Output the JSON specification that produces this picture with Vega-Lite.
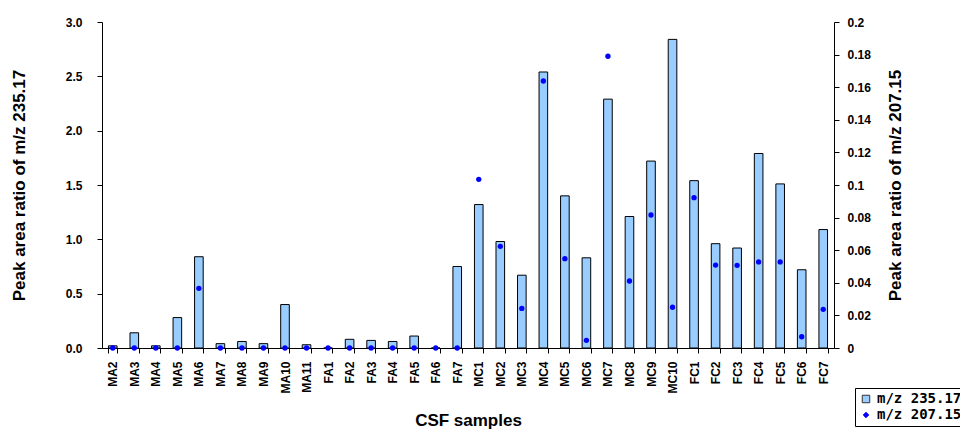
{
  "$schema": "https://vega.github.io/schema/vega-lite/v6.json",
  "autosize": {"type": "none"},
  "padding": {"left": 102, "top": 22, "right": 126, "bottom": 82},
  "width": 732,
  "height": 326,
  "background": "white",
  "config": {
    "view": {"stroke": null},
    "axis": {
      "grid": false,
      "domainColor": "black",
      "tickColor": "black",
      "tickSize": 5,
      "labelColor": "black",
      "labelFont": "Liberation Sans",
      "labelFontWeight": "bold",
      "labelFontSize": 12,
      "titleColor": "black",
      "titleFont": "Liberation Sans",
      "titleFontWeight": "bold",
      "titleFontSize": 17
    },
    "legend": {
      "title": null,
      "orient": "none",
      "legendX": 753,
      "legendY": 366,
      "fillColor": "white",
      "strokeColor": "black",
      "padding": 4,
      "rowPadding": 2,
      "labelFont": "DejaVu Sans Mono",
      "labelFontWeight": "bold",
      "labelFontSize": 14,
      "labelColor": "black",
      "labelOffset": 4
    }
  },
  "data": {
    "values": [
      {"sample": "MA2", "m235": 0.02, "m207": 0},
      {"sample": "MA3", "m235": 0.14, "m207": 0},
      {"sample": "MA4", "m235": 0.02, "m207": 0},
      {"sample": "MA5", "m235": 0.28, "m207": 0},
      {"sample": "MA6", "m235": 0.84, "m207": 0.0366},
      {"sample": "MA7", "m235": 0.04, "m207": 0},
      {"sample": "MA8", "m235": 0.06, "m207": 0},
      {"sample": "MA9", "m235": 0.04, "m207": 0},
      {"sample": "MA10", "m235": 0.40, "m207": 0},
      {"sample": "MA11", "m235": 0.03, "m207": 0},
      {"sample": "FA1", "m235": 0, "m207": 0},
      {"sample": "FA2", "m235": 0.08, "m207": 0},
      {"sample": "FA3", "m235": 0.07, "m207": 0},
      {"sample": "FA4", "m235": 0.06, "m207": 0},
      {"sample": "FA5", "m235": 0.11, "m207": 0},
      {"sample": "FA6", "m235": 0, "m207": 0},
      {"sample": "FA7", "m235": 0.75, "m207": 0},
      {"sample": "MC1", "m235": 1.32, "m207": 0.1035},
      {"sample": "MC2", "m235": 0.98, "m207": 0.0624},
      {"sample": "MC3", "m235": 0.67, "m207": 0.0243},
      {"sample": "MC4", "m235": 2.54, "m207": 0.1638},
      {"sample": "MC5", "m235": 1.40, "m207": 0.0548},
      {"sample": "MC6", "m235": 0.83, "m207": 0.0047},
      {"sample": "MC7", "m235": 2.29, "m207": 0.179},
      {"sample": "MC8", "m235": 1.21, "m207": 0.0411},
      {"sample": "MC9", "m235": 1.72, "m207": 0.0816},
      {"sample": "MC10", "m235": 2.84, "m207": 0.025},
      {"sample": "FC1", "m235": 1.54, "m207": 0.0922},
      {"sample": "FC2", "m235": 0.96, "m207": 0.0509},
      {"sample": "FC3", "m235": 0.92, "m207": 0.0507},
      {"sample": "FC4", "m235": 1.79, "m207": 0.0528},
      {"sample": "FC5", "m235": 1.51, "m207": 0.0528},
      {"sample": "FC6", "m235": 0.72, "m207": 0.0069},
      {"sample": "FC7", "m235": 1.09, "m207": 0.0237}
    ]
  },
  "encoding": {
    "x": {
      "field": "sample",
      "type": "nominal",
      "sort": null,
      "scale": {"paddingInner": 0.6, "paddingOuter": 0.3},
      "axis": {
        "title": "CSF samples",
        "labelAngle": -90,
        "labelPadding": 8,
        "tickBand": "extent",
        "titlePadding": 19
      }
    }
  },
  "layer": [
    {
      "mark": {"type": "bar", "stroke": "black", "strokeWidth": 1},
      "encoding": {
        "y": {
          "field": "m235",
          "type": "quantitative",
          "scale": {"domain": [0, 3], "nice": false},
          "axis": {
            "title": "Peak area ratio of m/z 235.17",
            "values": [0, 0.5, 1, 1.5, 2, 2.5, 3],
            "format": ".1f",
            "labelPadding": 15,
            "titlePadding": 37
          }
        },
        "color": {
          "datum": "m/z 235.17",
          "scale": {
            "domain": ["m/z 235.17", "m/z 207.15"],
            "range": ["#99CCFF", "#0000FF"]
          },
          "legend": {
            "symbolType": {"expr": "datum.value === 'm/z 235.17' ? 'square' : 'diamond'"},
            "symbolSize": {"expr": "datum.value === 'm/z 235.17' ? 56 : 30"},
            "symbolStrokeColor": {"expr": "datum.value === 'm/z 235.17' ? '#333333' : '#0000FF'"},
            "symbolStrokeWidth": 1
          }
        }
      }
    },
    {
      "mark": {"type": "point", "filled": true, "shape": "circle", "size": 28, "opacity": 1},
      "encoding": {
        "y": {
          "field": "m207",
          "type": "quantitative",
          "scale": {"domain": [0, 0.2], "nice": false},
          "axis": {
            "orient": "right",
            "title": "Peak area ratio of m/z 207.15",
            "values": [0, 0.02, 0.04, 0.06, 0.08, 0.1, 0.12, 0.14, 0.16, 0.18, 0.2],
            "format": "~g",
            "labelPadding": 8,
            "titleAngle": -90,
            "titlePadding": 34
          }
        },
        "color": {
          "datum": "m/z 207.15",
          "legend": {
            "symbolType": {"expr": "datum.value === 'm/z 235.17' ? 'square' : 'diamond'"},
            "symbolSize": {"expr": "datum.value === 'm/z 235.17' ? 56 : 30"},
            "symbolStrokeColor": {"expr": "datum.value === 'm/z 235.17' ? '#333333' : '#0000FF'"},
            "symbolStrokeWidth": 1
          }
        }
      }
    }
  ],
  "resolve": {"scale": {"y": "independent"}}
}
